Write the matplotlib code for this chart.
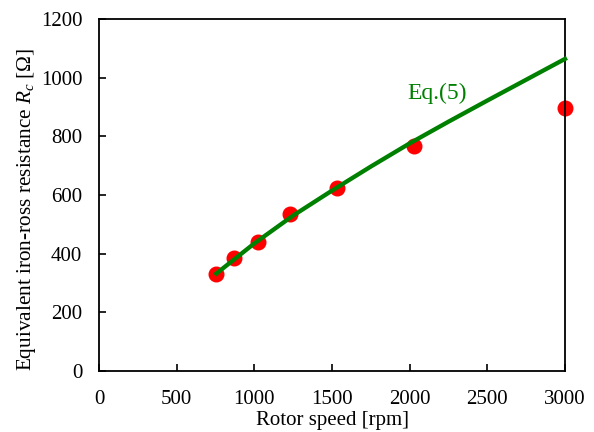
import matplotlib
matplotlib.use("Agg")
import matplotlib.pyplot as plt

plt.rcParams['font.family'] = ['Liberation Serif', 'DejaVu Serif']
plt.rcParams['mathtext.fontset'] = 'custom'
plt.rcParams['mathtext.rm'] = 'Liberation Serif'
plt.rcParams['mathtext.it'] = 'Liberation Serif:italic'

# measured points
speed = [755, 867, 1026, 1230, 1535, 2028, 3000]
rc_meas = [331, 386, 441, 534, 624, 766, 896]

# Eq.(5) curve
speed_eq = [755, 1000, 1250, 1500, 1750, 2000, 2250, 2500, 2750, 3000]
rc_eq = [332, 435, 530, 615, 697, 776, 850, 922, 993, 1064]

fig = plt.figure(figsize=(5.94, 4.32), dpi=100)
ax = fig.add_axes([99/594, 1 - 371/432, 466/594, 352/432])

ax.plot(speed, rc_meas, 'o', color='red', markersize=10.5, zorder=2, clip_on=False)
ax.plot(speed_eq, rc_eq, '-', color='green', linewidth=3.1, zorder=3, clip_on=False,
        solid_joinstyle='round')
ax.text(2175, 948, 'Eq.(5)', color='green', fontsize=17, ha='center', va='center')

ax.set_xlim(0, 3000)
ax.set_ylim(0, 1200)
ax.set_xticks([0, 500, 1000, 1500, 2000, 2500, 3000])
ax.set_yticks([0, 200, 400, 600, 800, 1000, 1200])
ax.tick_params(direction='in', length=5, width=1.2, labelsize=15)
ax.tick_params(axis='x', pad=14)
ax.tick_params(axis='y', pad=12)
for s in ax.spines.values():
    s.set_linewidth(1.3)

ax.set_xlabel('Rotor speed [rpm]', fontsize=15, labelpad=1)
ax.set_ylabel('Equivalent iron-ross resistance $R_c$ [$\\Omega$]', fontsize=15.3, labelpad=2)
ax.yaxis.label.set_y(0.46)

fig.savefig('out.png', dpi=100)
